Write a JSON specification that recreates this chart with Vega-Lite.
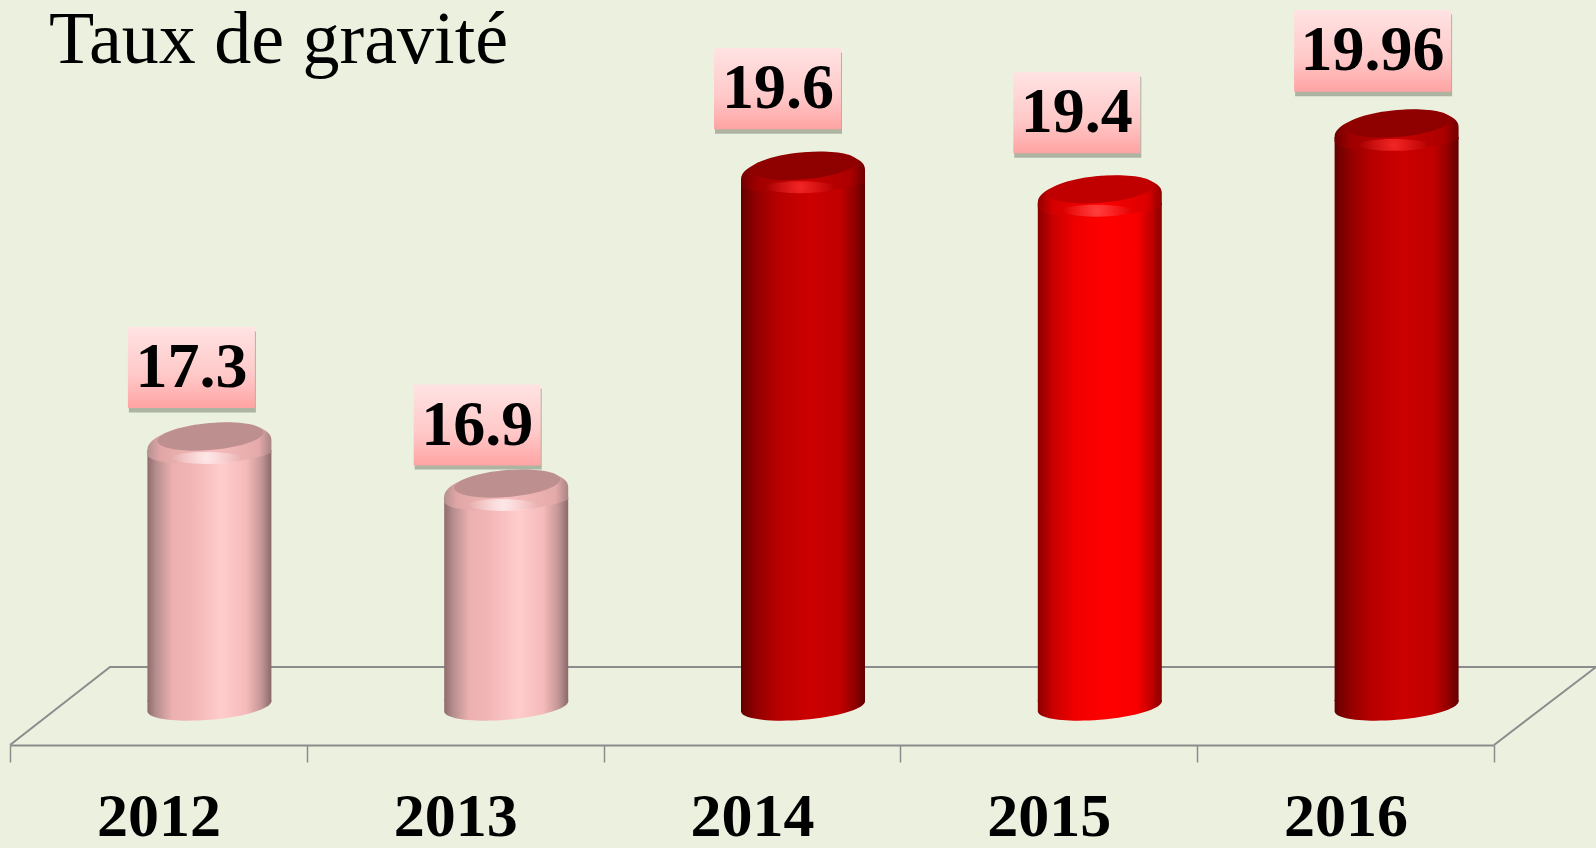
{"$schema":"https://vega.github.io/schema/vega-lite/v6.json","width":1484,"height":665,"autosize":{"type":"none"},"padding":{"left":10,"right":102,"top":80,"bottom":103},"background":"#ebf0df","config":{"view":{"stroke":null}},"resolve":{"scale":{"x":"independent"}},"layer":[{"layer":[{"data":{"values":[{"pos":0,"depth":14.751,"order":1},{"pos":0.337,"depth":15.414,"order":2},{"pos":5.344,"depth":15.414,"order":3},{"pos":5,"depth":14.751,"order":4}]},"mark":{"type":"line","color":"#8c8c8c","strokeWidth":2,"clip":false},"encoding":{"x":{"field":"pos","type":"quantitative","scale":{"domain":[0,5],"nice":false,"zero":false},"axis":null},"y":{"field":"depth","type":"quantitative","scale":{"domain":[14.751,20.401],"nice":false,"zero":false},"axis":null},"order":{"field":"order"}}},{"data":{"values":[{"pos":0.131,"depth":20.545,"label":"Taux de gravité"}]},"mark":{"type":"text","font":"Liberation Serif","fontSize":74,"fontWeight":"normal","color":"#000000","align":"left","baseline":"alphabetic"},"encoding":{"x":{"field":"pos","type":"quantitative","scale":{"domain":[0,5],"nice":false,"zero":false},"axis":null},"y":{"field":"depth","type":"quantitative","scale":{"domain":[14.751,20.401],"nice":false,"zero":false},"axis":null},"text":{"field":"label"}}}]},{"data":{"values":[{"year":"2012","value":17.3,"tone":"pale"},{"year":"2013","value":16.9,"tone":"pale"},{"year":"2014","value":19.6,"tone":"dark"},{"year":"2015","value":19.4,"tone":"bright"},{"year":"2016","value":19.96,"tone":"dark"}]},"encoding":{"x":{"field":"year","type":"ordinal","scale":{"type":"band","paddingInner":0,"paddingOuter":0},"axis":{"title":null,"labelAngle":0,"tickBand":"extent","domainColor":"#8c8c8c","domainWidth":2,"tickColor":"#8c8c8c","tickWidth":1.5,"tickSize":17,"labelFont":"Liberation Serif","labelFontWeight":"bold","labelFontSize":62,"labelColor":"#000000","labelPadding":24,"grid":false}},"y":{"field":"value","type":"quantitative","scale":{"domain":[14.751,20.401],"nice":false,"zero":false},"axis":null}},"layer":[{"transform":[{"filter":"datum.tone === 'pale'"}],"layer":[{"mark":{"type":"point","filled":true,"opacity":1,"strokeWidth":0,"xOffset":51,"size":15376,"shape":"M-1,-0.1L1,-0.1L1,-0.08C1,0.04 0.552,0.174 0,0.218C-0.552,0.262 -1,0.2 -1,0.08Z","fill":{"gradient":"linear","x1":0,"y1":0,"x2":1,"y2":0,"stops":[{"offset":0,"color":"#8f6c6c"},{"offset":0.07,"color":"#b58d8d"},{"offset":0.2,"color":"#ecb0b0"},{"offset":0.35,"color":"#f2b5b5"},{"offset":0.6,"color":"#ffcccc"},{"offset":0.8,"color":"#f5baba"},{"offset":0.92,"color":"#c49696"},{"offset":1,"color":"#8a6a6a"}]}},"encoding":{"y":{"datum":15.08,"type":"quantitative"}}},{"mark":{"type":"bar","width":124,"xOffset":51,"yOffset":5,"y2Offset":-5,"color":{"gradient":"linear","x1":0,"y1":0,"x2":1,"y2":0,"stops":[{"offset":0,"color":"#8f6c6c"},{"offset":0.07,"color":"#b58d8d"},{"offset":0.2,"color":"#ecb0b0"},{"offset":0.35,"color":"#f2b5b5"},{"offset":0.6,"color":"#ffcccc"},{"offset":0.8,"color":"#f5baba"},{"offset":0.92,"color":"#c49696"},{"offset":1,"color":"#8a6a6a"}]}},"encoding":{"y2":{"datum":15.08}}},{"mark":{"type":"point","filled":true,"opacity":1,"strokeWidth":0,"xOffset":51,"size":15376,"shape":"M-1,0.08C-1,-0.15 -0.5,-0.3 0.1,-0.355C0.55,-0.37 1,-0.3 1,-0.08L1,0.12C0.8,0.22 0.3,0.29 0,0.3C-0.5,0.32 -1,0.28 -1,0.15Z","fill":{"gradient":"linear","x1":0,"y1":0,"x2":1,"y2":0,"stops":[{"offset":0,"color":"#b59090"},{"offset":0.1,"color":"#e0a6a6"},{"offset":0.5,"color":"#f8bebe"},{"offset":0.9,"color":"#e4a9a9"},{"offset":1,"color":"#a88484"}]}}},{"mark":{"type":"point","filled":true,"opacity":1,"strokeWidth":0,"xOffset":52,"yOffset":-8.5,"size":11236,"color":"#bd8f8f","shape":"M1,-0.08C1,0.061 0.552,0.211 0,0.255C-0.552,0.299 -1,0.221 -1,0.08C-1,-0.061 -0.552,-0.211 0,-0.255C0.552,-0.299 1,-0.221 1,-0.08Z"}},{"mark":{"type":"point","filled":true,"opacity":1,"strokeWidth":0,"xOffset":48,"yOffset":13,"size":4900,"shape":"M-1,0C-1,-0.1 -0.5,-0.17 0,-0.17C0.5,-0.17 1,-0.1 1,0C1,0.1 0.5,0.17 0,0.17C-0.5,0.17 -1,0.1 -1,0Z","fill":{"gradient":"radial","x1":0.5,"y1":0.5,"x2":0.5,"y2":0.5,"r1":0,"r2":0.5,"stops":[{"offset":0,"color":"rgba(255,240,240,0.85)"},{"offset":1,"color":"rgba(255,240,240,0)"}]}}}]},{"transform":[{"filter":"datum.tone === 'dark'"}],"layer":[{"mark":{"type":"point","filled":true,"opacity":1,"strokeWidth":0,"xOffset":51,"size":15376,"shape":"M-1,-0.1L1,-0.1L1,-0.08C1,0.04 0.552,0.174 0,0.218C-0.552,0.262 -1,0.2 -1,0.08Z","fill":{"gradient":"linear","x1":0,"y1":0,"x2":1,"y2":0,"stops":[{"offset":0,"color":"#650000"},{"offset":0.12,"color":"#900000"},{"offset":0.3,"color":"#b80000"},{"offset":0.55,"color":"#cc0000"},{"offset":0.8,"color":"#c00000"},{"offset":0.92,"color":"#900000"},{"offset":1,"color":"#600000"}]}},"encoding":{"y":{"datum":15.08,"type":"quantitative"}}},{"mark":{"type":"bar","width":124,"xOffset":51,"yOffset":5,"y2Offset":-5,"color":{"gradient":"linear","x1":0,"y1":0,"x2":1,"y2":0,"stops":[{"offset":0,"color":"#650000"},{"offset":0.12,"color":"#900000"},{"offset":0.3,"color":"#b80000"},{"offset":0.55,"color":"#cc0000"},{"offset":0.8,"color":"#c00000"},{"offset":0.92,"color":"#900000"},{"offset":1,"color":"#600000"}]}},"encoding":{"y2":{"datum":15.08}}},{"mark":{"type":"point","filled":true,"opacity":1,"strokeWidth":0,"xOffset":51,"size":15376,"shape":"M-1,0.08C-1,-0.15 -0.5,-0.3 0.1,-0.355C0.55,-0.37 1,-0.3 1,-0.08L1,0.12C0.8,0.22 0.3,0.29 0,0.3C-0.5,0.32 -1,0.28 -1,0.15Z","fill":{"gradient":"linear","x1":0,"y1":0,"x2":1,"y2":0,"stops":[{"offset":0,"color":"#700000"},{"offset":0.12,"color":"#9c0000"},{"offset":0.5,"color":"#c80000"},{"offset":0.88,"color":"#ac0000"},{"offset":1,"color":"#700000"}]}}},{"mark":{"type":"point","filled":true,"opacity":1,"strokeWidth":0,"xOffset":52,"yOffset":-8.5,"size":11236,"color":"#8f0000","shape":"M1,-0.08C1,0.061 0.552,0.211 0,0.255C-0.552,0.299 -1,0.221 -1,0.08C-1,-0.061 -0.552,-0.211 0,-0.255C0.552,-0.299 1,-0.221 1,-0.08Z"}},{"mark":{"type":"point","filled":true,"opacity":1,"strokeWidth":0,"xOffset":48,"yOffset":13,"size":4900,"shape":"M-1,0C-1,-0.1 -0.5,-0.17 0,-0.17C0.5,-0.17 1,-0.1 1,0C1,0.1 0.5,0.17 0,0.17C-0.5,0.17 -1,0.1 -1,0Z","fill":{"gradient":"radial","x1":0.5,"y1":0.5,"x2":0.5,"y2":0.5,"r1":0,"r2":0.5,"stops":[{"offset":0,"color":"rgba(255,50,50,0.75)"},{"offset":1,"color":"rgba(255,50,50,0)"}]}}}]},{"transform":[{"filter":"datum.tone === 'bright'"}],"layer":[{"mark":{"type":"point","filled":true,"opacity":1,"strokeWidth":0,"xOffset":51,"size":15376,"shape":"M-1,-0.1L1,-0.1L1,-0.08C1,0.04 0.552,0.174 0,0.218C-0.552,0.262 -1,0.2 -1,0.08Z","fill":{"gradient":"linear","x1":0,"y1":0,"x2":1,"y2":0,"stops":[{"offset":0,"color":"#8a0000"},{"offset":0.12,"color":"#c80000"},{"offset":0.3,"color":"#f00000"},{"offset":0.55,"color":"#ff0000"},{"offset":0.8,"color":"#f80000"},{"offset":0.92,"color":"#c00000"},{"offset":1,"color":"#850000"}]}},"encoding":{"y":{"datum":15.08,"type":"quantitative"}}},{"mark":{"type":"bar","width":124,"xOffset":51,"yOffset":5,"y2Offset":-5,"color":{"gradient":"linear","x1":0,"y1":0,"x2":1,"y2":0,"stops":[{"offset":0,"color":"#8a0000"},{"offset":0.12,"color":"#c80000"},{"offset":0.3,"color":"#f00000"},{"offset":0.55,"color":"#ff0000"},{"offset":0.8,"color":"#f80000"},{"offset":0.92,"color":"#c00000"},{"offset":1,"color":"#850000"}]}},"encoding":{"y2":{"datum":15.08}}},{"mark":{"type":"point","filled":true,"opacity":1,"strokeWidth":0,"xOffset":51,"size":15376,"shape":"M-1,0.08C-1,-0.15 -0.5,-0.3 0.1,-0.355C0.55,-0.37 1,-0.3 1,-0.08L1,0.12C0.8,0.22 0.3,0.29 0,0.3C-0.5,0.32 -1,0.28 -1,0.15Z","fill":{"gradient":"linear","x1":0,"y1":0,"x2":1,"y2":0,"stops":[{"offset":0,"color":"#920000"},{"offset":0.12,"color":"#d40000"},{"offset":0.5,"color":"#ff0000"},{"offset":0.88,"color":"#dc0000"},{"offset":1,"color":"#920000"}]}}},{"mark":{"type":"point","filled":true,"opacity":1,"strokeWidth":0,"xOffset":52,"yOffset":-8.5,"size":11236,"color":"#c00000","shape":"M1,-0.08C1,0.061 0.552,0.211 0,0.255C-0.552,0.299 -1,0.221 -1,0.08C-1,-0.061 -0.552,-0.211 0,-0.255C0.552,-0.299 1,-0.221 1,-0.08Z"}},{"mark":{"type":"point","filled":true,"opacity":1,"strokeWidth":0,"xOffset":48,"yOffset":13,"size":4900,"shape":"M-1,0C-1,-0.1 -0.5,-0.17 0,-0.17C0.5,-0.17 1,-0.1 1,0C1,0.1 0.5,0.17 0,0.17C-0.5,0.17 -1,0.1 -1,0Z","fill":{"gradient":"radial","x1":0.5,"y1":0.5,"x2":0.5,"y2":0.5,"r1":0,"r2":0.5,"stops":[{"offset":0,"color":"rgba(255,90,90,0.7)"},{"offset":1,"color":"rgba(255,90,90,0)"}]}}}]},{"transform":[{"filter":"datum.year === '2012'"}],"layer":[{"mark":{"type":"point","filled":true,"opacity":0.5,"strokeWidth":0,"xOffset":34,"yOffset":-73,"size":16129,"color":"#6f7a66","shape":"M-1,-0.638L1,-0.638L1,0.638L-1,0.638Z"}},{"mark":{"type":"point","filled":true,"opacity":1,"strokeWidth":0,"xOffset":33,"yOffset":-77.5,"size":16129,"shape":"M-1,-0.638L1,-0.638L1,0.638L-1,0.638Z","fill":{"gradient":"linear","x1":0,"y1":0,"x2":0,"y2":1,"stops":[{"offset":0,"color":"#ffe3e3"},{"offset":0.6,"color":"#ffc8c8"},{"offset":1,"color":"#ffa3a3"}]}}},{"mark":{"type":"text","font":"Liberation Serif","fontWeight":"bold","fontSize":64,"color":"#000000","baseline":"middle","align":"center","xOffset":33,"yOffset":-77},"encoding":{"text":{"field":"value","type":"quantitative","format":".4~g"}}}]},{"transform":[{"filter":"datum.year === '2013'"}],"layer":[{"mark":{"type":"point","filled":true,"opacity":0.5,"strokeWidth":0,"xOffset":23,"yOffset":-63,"size":16129,"color":"#6f7a66","shape":"M-1,-0.638L1,-0.638L1,0.638L-1,0.638Z"}},{"mark":{"type":"point","filled":true,"opacity":1,"strokeWidth":0,"xOffset":22,"yOffset":-67,"size":16129,"shape":"M-1,-0.638L1,-0.638L1,0.638L-1,0.638Z","fill":{"gradient":"linear","x1":0,"y1":0,"x2":0,"y2":1,"stops":[{"offset":0,"color":"#ffe3e3"},{"offset":0.6,"color":"#ffc8c8"},{"offset":1,"color":"#ffa3a3"}]}}},{"mark":{"type":"text","font":"Liberation Serif","fontWeight":"bold","fontSize":64,"color":"#000000","baseline":"middle","align":"center","xOffset":22,"yOffset":-66.5},"encoding":{"text":{"field":"value","type":"quantitative","format":".4~g"}}}]},{"transform":[{"filter":"datum.year === '2014'"}],"layer":[{"mark":{"type":"point","filled":true,"opacity":0.5,"strokeWidth":0,"xOffset":26.5,"yOffset":-81,"size":16129,"color":"#6f7a66","shape":"M-1,-0.638L1,-0.638L1,0.638L-1,0.638Z"}},{"mark":{"type":"point","filled":true,"opacity":1,"strokeWidth":0,"xOffset":25.5,"yOffset":-85.5,"size":16129,"shape":"M-1,-0.638L1,-0.638L1,0.638L-1,0.638Z","fill":{"gradient":"linear","x1":0,"y1":0,"x2":0,"y2":1,"stops":[{"offset":0,"color":"#ffe3e3"},{"offset":0.6,"color":"#ffc8c8"},{"offset":1,"color":"#ffa3a3"}]}}},{"mark":{"type":"text","font":"Liberation Serif","fontWeight":"bold","fontSize":64,"color":"#000000","baseline":"middle","align":"center","xOffset":26,"yOffset":-85},"encoding":{"text":{"field":"value","type":"quantitative","format":".4~g"}}}]},{"transform":[{"filter":"datum.year === '2015'"}],"layer":[{"mark":{"type":"point","filled":true,"opacity":0.5,"strokeWidth":0,"xOffset":29,"yOffset":-80.5,"size":16129,"color":"#6f7a66","shape":"M-1,-0.638L1,-0.638L1,0.638L-1,0.638Z"}},{"mark":{"type":"point","filled":true,"opacity":1,"strokeWidth":0,"xOffset":28,"yOffset":-85,"size":16129,"shape":"M-1,-0.638L1,-0.638L1,0.638L-1,0.638Z","fill":{"gradient":"linear","x1":0,"y1":0,"x2":0,"y2":1,"stops":[{"offset":0,"color":"#ffe3e3"},{"offset":0.6,"color":"#ffc8c8"},{"offset":1,"color":"#ffa3a3"}]}}},{"mark":{"type":"text","font":"Liberation Serif","fontWeight":"bold","fontSize":64,"color":"#000000","baseline":"middle","align":"center","xOffset":28,"yOffset":-84.5},"encoding":{"text":{"field":"value","type":"quantitative","format":".4~g"}}}]},{"transform":[{"filter":"datum.year === '2016'"}],"layer":[{"mark":{"type":"point","filled":true,"opacity":0.5,"strokeWidth":0,"xOffset":28,"yOffset":-76.5,"size":24649,"color":"#6f7a66","shape":"M-1,-0.52L1,-0.52L1,0.52L-1,0.52Z"}},{"mark":{"type":"point","filled":true,"opacity":1,"strokeWidth":0,"xOffset":27,"yOffset":-81,"size":24649,"shape":"M-1,-0.52L1,-0.52L1,0.52L-1,0.52Z","fill":{"gradient":"linear","x1":0,"y1":0,"x2":0,"y2":1,"stops":[{"offset":0,"color":"#ffe3e3"},{"offset":0.6,"color":"#ffc8c8"},{"offset":1,"color":"#ffa3a3"}]}}},{"mark":{"type":"text","font":"Liberation Serif","fontWeight":"bold","fontSize":64,"color":"#000000","baseline":"middle","align":"center","xOffset":27,"yOffset":-80.5},"encoding":{"text":{"field":"value","type":"quantitative","format":".4~g"}}}]}]}]}
